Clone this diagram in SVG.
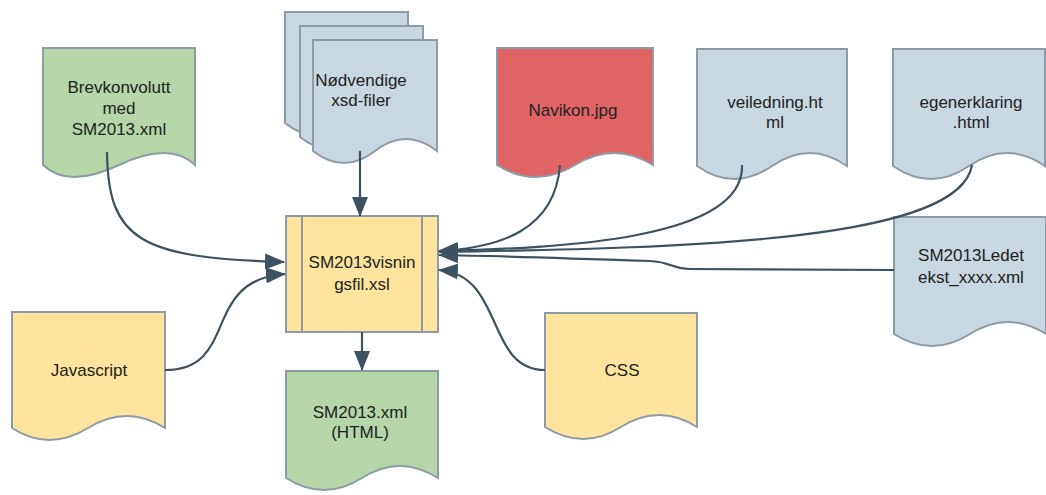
<svg xmlns="http://www.w3.org/2000/svg" width="1046" height="495" viewBox="0 0 1046 495">
<defs>
<style>
.n{stroke:#8c9ba6;stroke-width:2}
.g{fill:#b5d6a6}.b{fill:#c9d7e0}.r{fill:#e06464}.y{fill:#fee49c}
.t{font-family:"Liberation Sans",Arial,sans-serif;font-size:17px;fill:#222;text-anchor:middle}
.c{fill:none;stroke:#3d5260;stroke-width:2.2}
</style>
<marker id="ah" viewBox="0 0 20 16" refX="19" refY="8" markerWidth="20" markerHeight="16" markerUnits="userSpaceOnUse" orient="auto">
<path d="M0,0 L20,8 L0,16 Z" fill="#3d5260"/>
</marker>
</defs>
<rect width="1046" height="495" fill="#fff"/>
<g id="brevkonvolutt">
<path class="n g" d="M43,48 H195 V165 Q170,141 119,165 T43,165 Z"/>
<text class="t" x="119" y="93">Brevkonvolutt</text>
<text class="t" x="119" y="114">med</text>
<text class="t" x="119" y="135">SM2013.xml</text>
</g>
<g id="xsd">
<path class="n b" d="M285,12 H408 V123 Q377,99 346,123 T285,123 Z"/>
<path class="n b" d="M300,26 H423 V137 Q392,113 361,137 T300,137 Z"/>
<path class="n b" d="M313,40 H437 V151 Q406,127 375,151 T313,151 Z"/>
<text class="t" x="361" y="86">Nødvendige</text>
<text class="t" x="361" y="106">xsd-filer</text>
</g>
<g id="navikon">
<path class="n r" d="M497,48 H653 V165 Q614,141 575,165 T497,165 Z"/>
<text class="t" x="573" y="116">Navikon.jpg</text>
</g>
<g id="veiledning">
<path class="n b" d="M697,49 H847 V166 Q810,140 772,166 T697,166 Z"/>
<text class="t" x="775" y="108">veiledning.ht</text>
<text class="t" x="775" y="128">ml</text>
</g>
<g id="egenerklaring">
<path class="n b" d="M893,49 H1045 V166 Q1007,140 969,166 T893,166 Z"/>
<text class="t" x="971" y="108">egenerklaring</text>
<text class="t" x="971" y="128">.html</text>
</g>
<g id="ledetekst">
<path class="n b" d="M894,217 H1046 V334 Q1008,310 970,334 T894,334 Z"/>
<text class="t" x="971" y="261">SM2013Ledet</text>
<text class="t" x="971" y="283">ekst_xxxx.xml</text>
</g>
<g id="visningsfil">
<rect class="n y" x="286" y="216" width="152" height="116"/>
<line class="n" x1="302" y1="216" x2="302" y2="332"/>
<line class="n" x1="422" y1="216" x2="422" y2="332"/>
<text class="t" x="362" y="268">SM2013visnin</text>
<text class="t" x="362" y="290">gsfil.xsl</text>
</g>
<g id="javascript">
<path class="n y" d="M12,312 H165 V428 Q127,404 88,428 T12,428 Z"/>
<text class="t" x="89" y="376">Javascript</text>
</g>
<g id="html">
<path class="n g" d="M286,371 H438 V478 Q400,454 362,478 T286,478 Z"/>
<text class="t" x="360" y="418">SM2013.xml</text>
<text class="t" x="360" y="438">(HTML)</text>
</g>
<g id="css">
<path class="n y" d="M545,313 H697 V427 Q659,403 621,427 T545,427 Z"/>
<text class="t" x="622" y="376">CSS</text>
</g>
<g id="connectors">
<path class="c" marker-end="url(#ah)" d="M107,152 C108,240 140,258 284,262"/>
<path class="c" marker-end="url(#ah)" d="M165,370 C240,370 200,280 285,274"/>
<path class="c" marker-end="url(#ah)" d="M360,151 V216"/>
<path class="c" marker-end="url(#ah)" d="M362,332 V370"/>
<path class="c" marker-end="url(#ah)" d="M545,370 C485,370 505,275 439,270"/>
<path class="c" marker-end="url(#ah)" d="M560,165 C555,230 500,248 439,251"/>
<path class="c" marker-end="url(#ah)" d="M742,165 C745,240 560,248 439,251"/>
<path class="c" marker-end="url(#ah)" d="M972,165 C960,240 700,248 439,252"/>
<path class="c" marker-end="url(#ah)" d="M894,270 L690,269 C672,269 672,262 650,261 C560,258 500,256 439,255"/>
</g>
</svg>
